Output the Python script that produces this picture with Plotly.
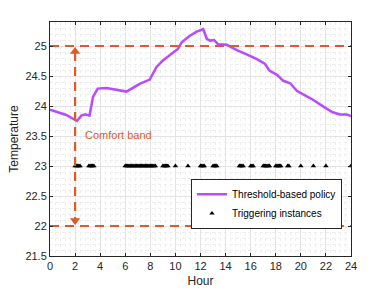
import plotly.graph_objects as go

# ---- data ----
hours = [0, 0.5, 1.3, 2.15, 2.5, 2.8, 3.15, 3.43, 3.8, 4.5, 5.15, 6.1, 7.15, 7.95,
         8.5, 9.0, 9.7, 10.2, 10.5, 11.15, 11.7, 12.05, 12.22, 12.5, 12.76, 13.08,
         13.4, 14.1, 14.9, 15.68, 16.1, 16.5, 17.15, 17.5, 18.1, 18.6, 19.15, 19.7,
         20.3, 21.0, 21.8, 22.5, 23.1, 23.65, 24.0]
temps = [23.94, 23.91, 23.85, 23.75, 23.84, 23.86, 23.84, 24.15, 24.29, 24.30,
         24.28, 24.24, 24.37, 24.44, 24.65, 24.76, 24.87, 24.95, 25.06, 25.17,
         25.24, 25.27, 25.28, 25.12, 25.09, 25.10, 25.03, 25.02, 24.93, 24.86,
         24.82, 24.78, 24.70, 24.59, 24.52, 24.42, 24.38, 24.25, 24.18, 24.10,
         23.99, 23.90, 23.86, 23.86, 23.83]

trigger_hours = [2.0, 2.1, 2.2, 2.3, 2.4,
                 3.1, 3.2, 3.3, 3.4, 3.5,
                 6.0, 6.1, 6.2, 6.3, 6.4, 6.5, 6.6, 6.7, 6.8, 6.9, 7.0, 7.1, 7.2,
                 7.3, 7.4, 7.5, 7.6, 7.7, 7.8, 7.9, 8.0, 8.1, 8.2, 8.3, 8.4,
                 9.0, 9.1, 9.2, 9.3, 9.4,
                 10.0, 11.0,
                 12.0, 12.1, 12.2, 12.3,
                 13.0, 13.1, 13.2, 13.3,
                 15.1, 15.2, 15.3, 15.4,
                 16.0, 16.1, 16.2,
                 17.0, 17.1, 17.2, 17.3, 17.4, 17.5,
                 18.0, 18.1, 18.2, 18.3, 18.4,
                 18.95, 19.05,
                 20.0, 21.0, 22.0, 24.0]
trigger_level = 23.0

comfort_low = 22.0
comfort_high = 25.0
band_hour = 2.0

x_ticks = list(range(0, 25, 2))
y_ticks = [21.5, 22, 22.5, 23, 23.5, 24, 24.5, 25]
y_labels = ["21.5", "22", "22.5", "23", "23.5", "24", "24.5", "25"]

ORANGE = "#DF5A24"
PURPLE = "#B84AFF"
AXIS = "#262626"
FONT = "Liberation Sans, Arial, sans-serif"

fig = go.Figure()

fig.add_trace(go.Scatter(
    x=hours, y=temps, mode="lines", name="Threshold-based policy",
    line=dict(color=PURPLE, width=2.5, shape="linear")))

fig.add_trace(go.Scatter(
    x=trigger_hours, y=[trigger_level] * len(trigger_hours), mode="markers",
    name="Triggering instances",
    marker=dict(symbol="triangle-up", size=4.8, color="black", line=dict(width=0))))

# comfort band limits
for lvl in (comfort_low, comfort_high):
    fig.add_trace(go.Scatter(
        x=[0, 24], y=[lvl, lvl], mode="lines", showlegend=False, hoverinfo="skip",
        line=dict(color=ORANGE, width=2.2, dash="9px,6px")))

# double-headed arrow
fig.add_trace(go.Scatter(
    x=[band_hour, band_hour], y=[comfort_high - 0.1, comfort_low + 0.1],
    mode="lines", showlegend=False, hoverinfo="skip", cliponaxis=False,
    line=dict(color=ORANGE, width=2.2, dash="9px,6px")))
fig.add_trace(go.Scatter(
    x=[band_hour, band_hour], y=[comfort_high - 0.09, comfort_low + 0.09],
    mode="markers", showlegend=False, hoverinfo="skip", cliponaxis=False,
    marker=dict(symbol=["triangle-up", "triangle-down"], size=9, color=ORANGE,
                line=dict(width=0))))

fig.add_annotation(x=2.6, y=23.51, xanchor="left", yanchor="middle",
                   text="Comfort band", showarrow=False,
                   font=dict(color=ORANGE, size=11, family=FONT))

axis_common = dict(
    showline=True, linecolor=AXIS, linewidth=1, mirror="allticks",
    ticks="inside", ticklen=3, tickcolor=AXIS, tickwidth=1,
    showgrid=True, gridcolor="#e3e3e3", gridwidth=1,
    zeroline=False, automargin=False,
    tickfont=dict(size=11, color=AXIS, family=FONT),
)

fig.update_xaxes(
    range=[0, 24], tickvals=x_ticks, ticktext=[str(v) for v in x_ticks],
    title=dict(text="Hour", font=dict(size=12, color=AXIS, family=FONT), standoff=5),
    minor=dict(dtick=0.4, showgrid=True, gridcolor="#eeeeee", griddash="dot",
               gridwidth=1, ticks=""),
    **axis_common)
fig.update_yaxes(
    range=[21.5, 25.4], tickvals=y_ticks, ticktext=y_labels,
    title=dict(text="Temperature", font=dict(size=12, color=AXIS, family=FONT), standoff=4),
    minor=dict(dtick=0.1, showgrid=True, gridcolor="#eeeeee", griddash="dot",
               gridwidth=1, ticks=""),
    **axis_common)

fig.update_layout(
    width=388, height=291,
    margin=dict(l=50, r=37, t=22, b=35),
    plot_bgcolor="white", paper_bgcolor="white",
    font=dict(family=FONT, color=AXIS),
    hovermode=False,
    legend=dict(x=0.97, y=0.33, xanchor="right", yanchor="top",
                bgcolor="white", bordercolor=AXIS, borderwidth=1,
                font=dict(size=10, color="black", family=FONT),
                itemwidth=30, tracegroupgap=0,
                traceorder="normal"),
)

fig.write_html("out.html", config={"displayModeBar": False, "staticPlot": True},
               post_script="document.body.style.margin='0';document.body.style.overflow='hidden';")
